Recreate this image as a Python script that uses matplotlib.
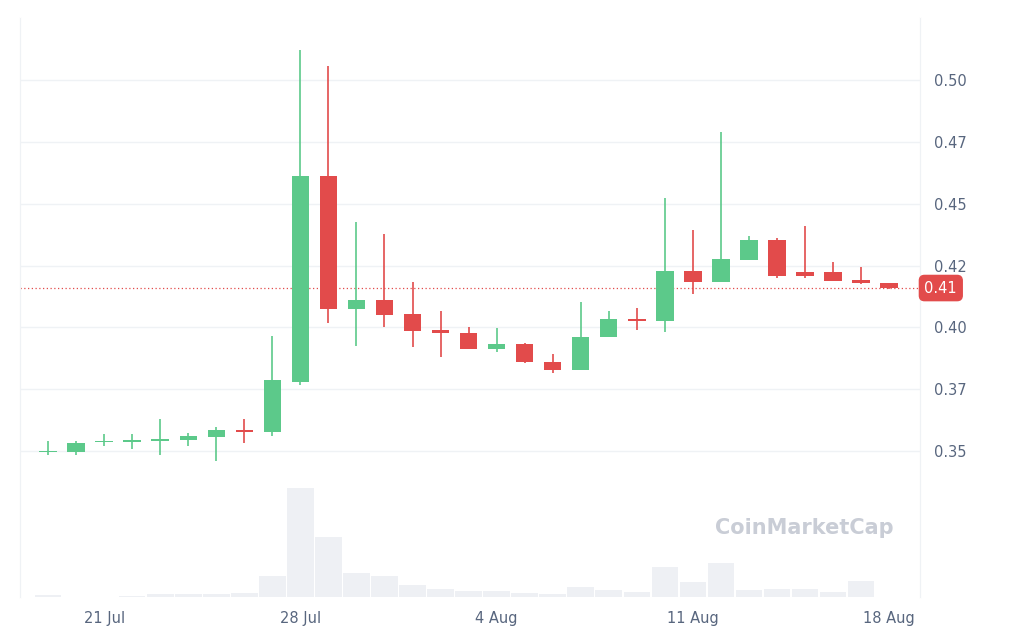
import matplotlib
matplotlib.use("Agg")
import matplotlib.pyplot as plt
import numpy as np

dates = ["19 Jul","20 Jul","21 Jul","22 Jul","23 Jul","24 Jul","25 Jul","26 Jul","27 Jul","28 Jul","29 Jul","30 Jul","31 Jul",
         "1 Aug","2 Aug","3 Aug","4 Aug","5 Aug","6 Aug","7 Aug","8 Aug","9 Aug","10 Aug","11 Aug","12 Aug","13 Aug","14 Aug",
         "15 Aug","16 Aug","17 Aug","18 Aug"]
def p(y): return round(0.35 + (451 - y) / 2473, 4)
opens  = [p(v) for v in [452,452,442,442,441,440,437,430,432,382,176,309,300,314,330,333,349,344,362,370,337,319,321,271,282,260,240,272,272,280,283]]
closes = [p(v) for v in [451,443,441,440,439,436,430,432,380,176,309,300,315,331,333,349,344,362,370,337,319,321,271,282,259,240,276,276,281,283,288]]
highs  = [p(v) for v in [441,441,434,434,419,433,427,419,336,50,66,222,234,282,311,327,328,343,354,302,311,308,198,230,132,236,238,226,262,267,283]]
lows   = [p(v) for v in [455,455,446,449,455,446,461,443,436,385,323,346,327,347,357,349,352,363,373,370,337,330,332,294,282,260,278,278,281,284,289]]
volume = [2,0,0,1,3,3,3,4,21,109,60,24,21,12,8,6,6,4,3,10,7,5,30,15,34,7,8,8,5,16,0]
current = p(288)
yticks = [0.35,0.375,0.40,0.425,0.45,0.475,0.50]
ylabels = ["0.35","0.37","0.40","0.42","0.45","0.47","0.50"]
xtick_idx = [2,9,16,23,30]
xtick_lab = ["21 Jul","28 Jul","4 Aug","11 Aug","18 Aug"]

green, red = "#5cc98a", "#e24b4b"
fig = plt.figure(figsize=(10.24,6.4), dpi=100)
ax = fig.add_axes([20/1024, 43/640, 900/1024, 579/640])
axv = ax.twinx()
axv.set_zorder(0); ax.set_zorder(1); ax.patch.set_visible(False)
ax.set_axisbelow(True)
x = np.arange(len(dates))
axv.bar(x, volume, width=0.95, color="#eef0f4")
axv.set_ylim(0, 579)
axv.set_yticks([])
for i in range(len(x)):
    c = green if closes[i] >= opens[i] else red
    ax.vlines(x[i], lows[i], highs[i], color=c, lw=1.2, zorder=3)
    lo, hi = min(opens[i], closes[i]), max(opens[i], closes[i])
    ax.bar(x[i], max(hi-lo, 0.0005), bottom=lo, width=0.62, color=c, zorder=3)
ax.set_xlim(-1.0, 31.1)
ax.set_ylim(0.35-146/2473, 0.35+433/2473)
ax.axhline(current, color=red, lw=0.9, ls=(0,(1,2)), zorder=2)
ax.yaxis.tick_right()
ax.set_yticks(yticks); ax.set_yticklabels(ylabels)
ax.set_xticks(xtick_idx); ax.set_xticklabels(xtick_lab)
ax.tick_params(length=0, colors="#58667e", labelsize=10.5, pad=10)
ax.grid(axis="y", color="#eff2f5", lw=1, zorder=0)
for s in ["top","bottom"]:
    ax.spines[s].set_visible(False); axv.spines[s].set_visible(False)
for a in (ax, axv):
    a.spines["left"].set_color("#eff2f5"); a.spines["right"].set_color("#eff2f5")
ax.text(1.005, current, "0.41", transform=ax.get_yaxis_transform(), va="center", ha="left",
        color="white", fontsize=10.5, bbox=dict(boxstyle="round,pad=0.35", fc=red, ec=red))
fig.text(0.785, 0.165, "CoinMarketCap", fontsize=15, color="#c9cdd6", fontweight="bold", ha="center")
fig.savefig("out.png", dpi=100, facecolor="white")
